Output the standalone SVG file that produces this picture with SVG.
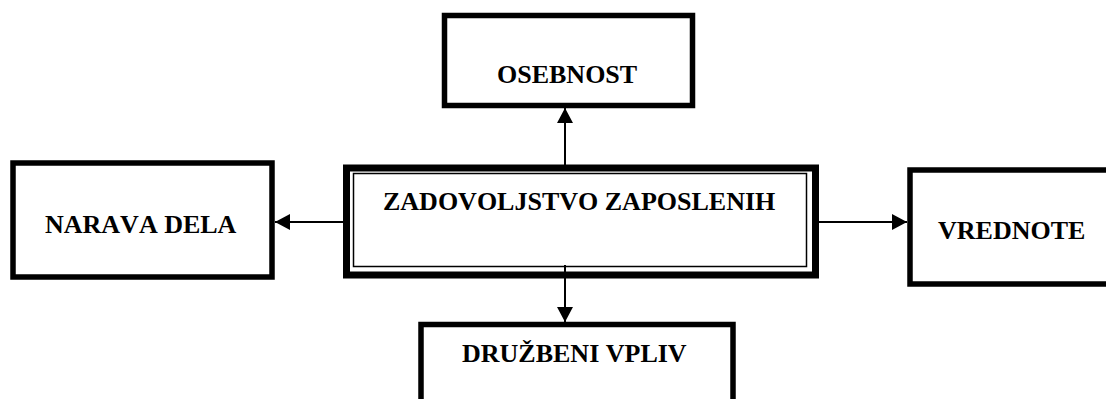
<svg xmlns="http://www.w3.org/2000/svg" width="1106" height="399" viewBox="0 0 1106 399">
  <style>
    .box { fill: #ffffff; stroke: #000000; stroke-width: 5.5; }
    .outer { fill: #ffffff; stroke: #000000; stroke-width: 7; }
    .inner { fill: none; stroke: #000000; stroke-width: 1.5; }
    .conn { stroke: #000000; stroke-width: 2; fill: none; marker-end: url(#arrow); }
    text { font-kerning: none; }
  </style>
  <defs>
    <marker id="arrow" markerUnits="userSpaceOnUse" markerWidth="15" markerHeight="16" refX="15" refY="8" orient="auto">
      <path d="M0,0 L15,8 L0,16 Z" fill="#000000"/>
    </marker>
  </defs>

  <rect width="1106" height="399" fill="#ffffff"/>

  <!-- all labels share one serif bold face -->
  <g font-family="Liberation Serif, DejaVu Serif, serif" font-weight="bold" font-size="26" fill="#000000">
    <g id="osebnost">
      <rect class="box" x="444.5" y="15.5" width="248" height="90"/>
      <text x="497" y="83">OSEBNOST</text>
    </g>
    <g id="narava-dela">
      <rect class="box" x="13" y="163" width="259" height="114"/>
      <text x="45" y="233">NARAVA DELA</text>
    </g>
    <g id="vrednote">
      <rect class="box" x="910" y="170" width="210" height="114"/>
      <text x="938" y="239">VREDNOTE</text>
    </g>
    <g id="druzbeni-vpliv">
      <rect class="box" x="421" y="324.5" width="312" height="100"/>
      <text x="462" y="362">DRUŽBENI VPLIV</text>
    </g>

    <!-- central node with thick-thin double border -->
    <g id="zadovoljstvo">
      <rect class="outer" x="346.5" y="168" width="469" height="107"/>
      <rect class="inner" x="353.5" y="173.5" width="453" height="93"/>
      <text x="383" y="210">ZADOVOLJSTVO ZAPOSLENIH</text>
    </g>
  </g>

  <g id="connectors">
    <line class="conn" x1="565" y1="165" x2="565" y2="108"/>
    <line class="conn" x1="343" y1="222" x2="275" y2="222"/>
    <line class="conn" x1="819" y1="222" x2="907" y2="222"/>
    <line class="conn" x1="565" y1="265" x2="565" y2="322"/>
  </g>
</svg>
